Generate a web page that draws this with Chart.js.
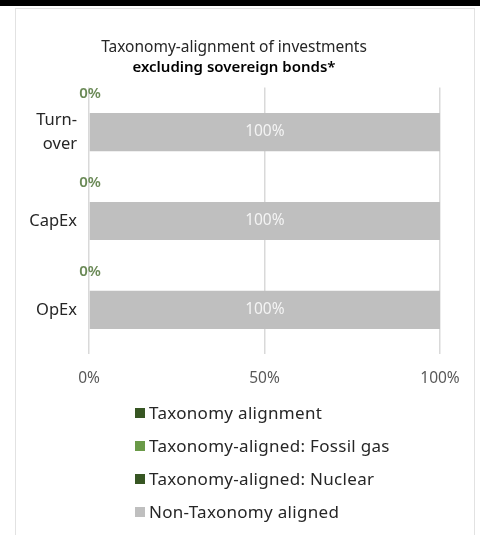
<!DOCTYPE html>
<html>
<head>
<meta charset="utf-8">
<script src="https://cdn.jsdelivr.net/npm/chart.js@4"></script>
<style>
  html, body { margin: 0; padding: 0; background: #fff; }
  body { width: 480px; height: 535px; position: relative; overflow: hidden; font-family: "Noto Sans", Lato, sans-serif; }
  .topbar { position: absolute; left: 0; top: 0; width: 480px; height: 6px; background: #000; }
  .frame { position: absolute; left: 15px; top: 8px; width: 460px; height: 540px; border: 1px solid #e2e2e2; box-sizing: border-box; }
  #wrap { position: absolute; left: 16px; top: 8px; width: 460px; height: 395px; }
  #legend { position: absolute; left: 135px; top: 396px; margin: 0; padding: 0; list-style: none; }
  #legend li { height: 33px; display: flex; align-items: center; font-size: 17px; letter-spacing: 0.3px; color: #262626; }
  #legend span.box { width: 10px; height: 10px; margin-right: 4px; display: inline-block; }
</style>
</head>
<body>
<div class="topbar"></div>
<div class="frame"></div>
<div id="wrap"><canvas id="chart"></canvas></div>
<ul id="legend"></ul>
<script>
const categories = [['Turn-', 'over'], 'CapEx', 'OpEx'];
const seriesNames = ['Taxonomy alignment', 'Taxonomy-aligned: Fossil gas', 'Taxonomy-aligned: Nuclear', 'Non-Taxonomy aligned'];
const seriesColors = ['#375623', '#6a9a48', '#375623', '#bfbfbf'];
const aligned = [0, 0, 0];
const fossilGas = [0, 0, 0];
const nuclear = [0, 0, 0];
const nonAligned = [100, 100, 100];
const xTicks = [0, 50, 100];

const seriesValues = [aligned, fossilGas, nuclear, nonAligned];

// labels: "0%" above each bar for the aligned share, "100%" inside the grey bar
const barLabels = {
  id: 'barLabels',
  afterDatasetsDraw(chart) {
    const { ctx } = chart;
    ctx.save();
    ctx.textBaseline = 'middle';
    ctx.textAlign = 'center';

    const first = chart.getDatasetMeta(0);
    first.data.forEach((bar, i) => {
      const top = bar.y - bar.height / 2;
      ctx.font = '600 15px "Noto Sans", sans-serif';
      ctx.fillStyle = '#6b8a57';
      ctx.fillText(aligned[i] + '%', bar.base + 1, top - 19);
    });

    const last = chart.getDatasetMeta(3);
    last.data.forEach((bar, i) => {
      ctx.font = '15.5px "Noto Sans", sans-serif';
      ctx.fillStyle = '#f4f4f4';
      ctx.fillText(nonAligned[i] + '%', (bar.x + bar.base) / 2, bar.y);
    });
    ctx.restore();
  }
};

const chart = new Chart(document.getElementById('chart'), {
  type: 'bar',
  data: {
    labels: categories,
    datasets: seriesNames.map((name, i) => ({
      label: name,
      data: seriesValues[i],
      backgroundColor: seriesColors[i],
      borderWidth: 0,
      categoryPercentage: 0.43,
      barPercentage: 1
    }))
  },
  options: {
    indexAxis: 'y',
    responsive: true,
    maintainAspectRatio: false,
    animation: false,
    layout: { padding: { left: 12, right: 36, bottom: 0 } },
    plugins: {
      legend: { display: false },
      tooltip: { enabled: false },
      title: {
        display: true,
        text: 'Taxonomy-alignment of investments',
        color: '#262626',
        font: { family: '"Noto Sans", sans-serif', size: 15.5, weight: 'normal' },
        padding: { top: 30, bottom: 2 }
      },
      subtitle: {
        display: true,
        text: 'excluding sovereign bonds*',
        color: '#000',
        font: { family: '"Noto Sans", sans-serif', size: 15, weight: '600' },
        padding: { top: 0, bottom: 11 }
      }
    },
    scales: {
      x: {
        stacked: true,
        min: 0,
        max: 100,
        afterBuildTicks: (scale) => { scale.ticks = xTicks.map(v => ({ value: v })); },
        afterFit: (scale) => { scale.paddingRight = 0; scale.paddingLeft = 0; },
        grid: { color: '#d9d9d9', lineWidth: 1.5, drawTicks: false },
        border: { display: false },
        ticks: {
          color: '#595959',
          padding: 15,
          font: { family: '"Noto Sans", sans-serif', size: 15.5 },
          callback: (v) => v + '%'
        }
      },
      y: {
        stacked: true,
        grid: { display: false, drawTicks: false },
        border: { display: false },
        afterFit: (scale) => { scale.width = 61; },
        ticks: {
          color: '#262626',
          padding: 12,
          font: { family: '"Noto Sans", sans-serif', size: 16.5, lineHeight: 1.45 }
        }
      }
    }
  },
  plugins: [barLabels]
});

const legend = document.getElementById('legend');
seriesNames.forEach((name, i) => {
  const li = document.createElement('li');
  const box = document.createElement('span');
  box.className = 'box';
  box.style.background = seriesColors[i];
  li.appendChild(box);
  li.appendChild(document.createTextNode(name));
  legend.appendChild(li);
});
</script>
</body>
</html>
